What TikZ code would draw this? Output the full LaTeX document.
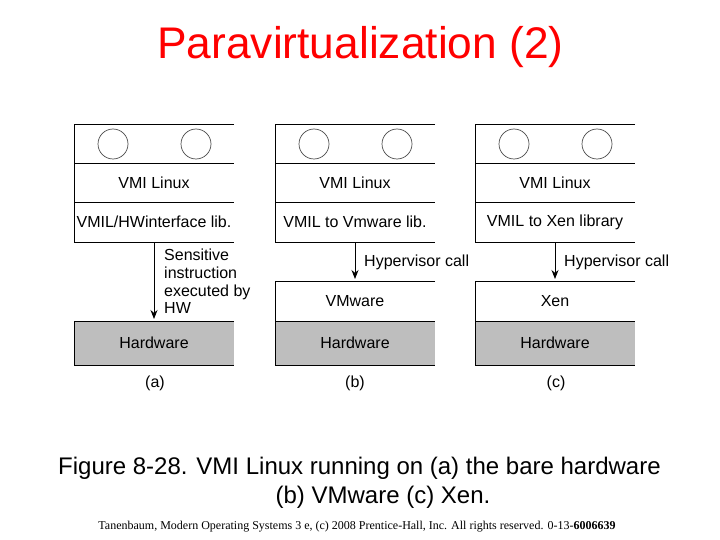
\documentclass[tikz,border=0pt]{standalone}
\usepackage{fontspec}
\setmainfont{Liberation Sans}
\newfontfamily\footserif{Liberation Serif}
\usetikzlibrary{arrows.meta}
\definecolor{hwgray}{RGB}{190,190,190}
\definecolor{titlered}{RGB}{255,0,0}
\begin{document}
\begin{tikzpicture}[x=1pt,y=-1pt,
  row/.style={minimum width=160pt, inner sep=0pt, outer sep=0pt, anchor=north west, font=\fontsize{16}{18}\selectfont},
  hw/.style={row, fill=hwgray},
  edge/.style={draw=black, line width=0.9pt},
  vmcircle/.style={circle, draw=black!70, line width=0.7pt, minimum size=30pt, inner sep=0pt},
  arr/.style={draw=black, line width=0.9pt, shorten >=2pt, -{Stealth[length=9pt,width=7pt]}},
  lbl/.style={inner sep=0pt, font=\fontsize{16}{17.7}\selectfont, align=left}
]
\useasboundingbox (0,0) rectangle (720,540);

% Title
\node[inner sep=0pt, text=titlered, font=\fontsize{44.3}{50}\selectfont] (title) at (360.5,47) {Paravirtualization (2)};

% ---------- (a)
\node[row, minimum height=39pt] (a1) at (74,124) {};
\node[row, minimum height=39pt] (a2) at (74,163) {VMI Linux};
\node[row, minimum height=40pt] (a3) at (74,202) {VMIL/HWinterface lib.};
\node[hw, minimum height=44pt] (a5) at (74,321) {Hardware};
\draw[edge] (a1.north east) -- (a1.north west) -- (a3.south west) -- (a3.south east);
\draw[edge] (a2.north west) -- (a2.north east);
\draw[edge] (a3.north west) -- (a3.north east);
\draw[edge] (a5.north east) -- (a5.north west) -- (a5.south west) -- (a5.south east);
\node[vmcircle] (a1l) at (113,144) {};
\node[vmcircle] (a1r) at (196,144) {};
\draw[arr] (a3.south) -- (a5.north);
\node[lbl, anchor=west] (asens) at (164,281.5) {Sensitive\\instruction\\executed by\\HW};
\node[lbl] (acap) at (155,383) {(a)};

% ---------- (b)
\node[row, minimum height=39pt] (b1) at (275,124) {};
\node[row, minimum height=39pt] (b2) at (275,163) {VMI Linux};
\node[row, minimum height=40pt] (b3) at (275,202) {VMIL to Vmware lib.};
\node[row, minimum height=40pt] (b4) at (275,281) {VMware};
\node[hw, minimum height=44pt] (b5) at (275,321) {Hardware};
\draw[edge] (b1.north east) -- (b1.north west) -- (b3.south west) -- (b3.south east);
\draw[edge] (b2.north west) -- (b2.north east);
\draw[edge] (b3.north west) -- (b3.north east);
\draw[edge] (b4.north east) -- (b4.north west) -- (b5.south west) -- (b5.south east);
\draw[edge] (b5.north west) -- (b5.north east);
\node[vmcircle] (b1l) at (314,144) {};
\node[vmcircle] (b1r) at (397,144) {};
\draw[arr] (b3.south) -- (b4.north);
\node[lbl, anchor=west] (bhyp) at (364,262) {Hypervisor call};
\node[lbl] (bcap) at (355,383) {(b)};

% ---------- (c)
\node[row, minimum height=39pt] (c1) at (475,124) {};
\node[row, minimum height=39pt] (c2) at (475,163) {VMI Linux};
\node[row, minimum height=40pt] (c3) at (475,202) {VMIL to Xen library};
\node[row, minimum height=40pt] (c4) at (475,281) {Xen};
\node[hw, minimum height=44pt] (c5) at (475,321) {Hardware};
\draw[edge] (c1.north east) -- (c1.north west) -- (c3.south west) -- (c3.south east);
\draw[edge] (c2.north west) -- (c2.north east);
\draw[edge] (c3.north west) -- (c3.north east);
\draw[edge] (c4.north east) -- (c4.north west) -- (c5.south west) -- (c5.south east);
\draw[edge] (c5.north west) -- (c5.north east);
\node[vmcircle] (c1l) at (514,144) {};
\node[vmcircle] (c1r) at (597,144) {};
\draw[arr] (c3.south) -- (c4.north);
\node[lbl, anchor=west] (chyp) at (564,262) {Hypervisor call};
\node[lbl] (ccap) at (556,383) {(c)};

% Caption
\node[inner sep=0pt, font=\fontsize{24}{28}\selectfont] (cap1) at (359.5,468) {Figure 8-28. VMI Linux running on (a) the bare hardware};
\node[inner sep=0pt, font=\fontsize{24}{28}\selectfont] (cap2) at (383,497) {(b) VMware (c) Xen.};

% Footer
\node[inner sep=0pt, font=\footserif\fontsize{12}{14}\selectfont] (foot) at (357,527) {Tanenbaum, Modern Operating Systems 3 e, (c) 2008 Prentice-Hall, Inc. All rights reserved. 0-13-\textbf{6006639}};
\end{tikzpicture}
\end{document}
